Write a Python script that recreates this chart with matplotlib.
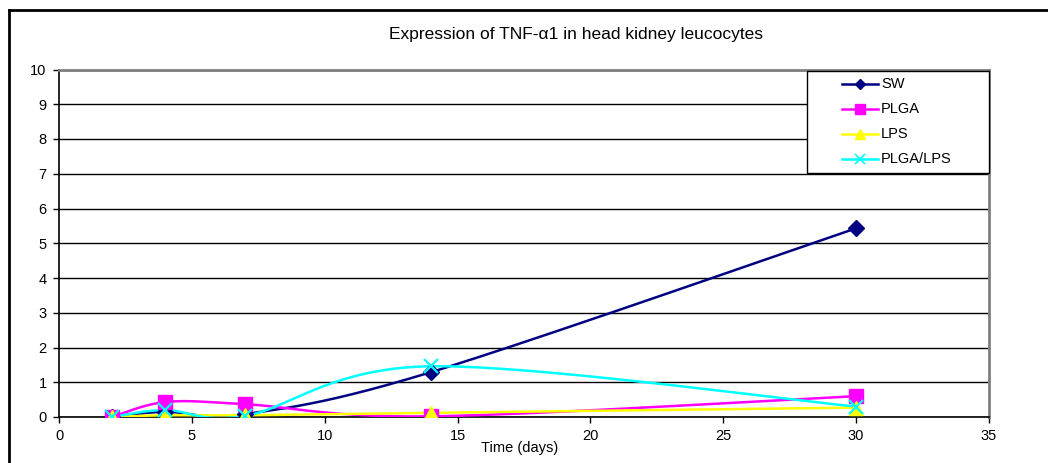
import numpy as np
import matplotlib.pyplot as plt
from matplotlib.lines import Line2D
from matplotlib.patches import Rectangle

plt.rcParams['font.family'] = ['Liberation Sans', 'DejaVu Sans']

# data
days = [2, 4, 7, 14, 30]
sw = [0.0, 0.15, 0.08, 1.29, 5.43]
plga = [0.0, 0.43, 0.37, 0.02, 0.60]
lps = [0.0, 0.05, 0.05, 0.12, 0.27]
plga_lps = [0.0, 0.20, 0.03, 1.46, 0.30]

series = ['SW', 'PLGA', 'LPS', 'PLGA/LPS']
colors = ['#000080', '#FF00FF', '#FFFF00', '#00FFFF']
markers = ['D', 's', '^', 'x']

W, H = 1048, 463


def px(x, y):
    # pixel position -> figure fraction
    return x / W, 1 - y / H


# Excel style smoothed line (bezier through the points)
def smooth(x, y, n=40):
    p = np.column_stack([x, y]).astype(float)
    out = []
    for i in range(len(p) - 1):
        p0 = p[i - 1] if i > 0 else p[i]
        p3 = p[i + 2] if i + 2 < len(p) else p[i + 1]
        c1 = p[i] + (p[i + 1] - p0) / 6
        c2 = p[i + 1] - (p3 - p[i]) / 6
        t = np.linspace(0, 1, n)[:, None]
        seg = ((1 - t) ** 3) * p[i] + 3 * ((1 - t) ** 2) * t * c1 \
            + 3 * (1 - t) * t ** 2 * c2 + t ** 3 * p[i + 1]
        out.append(seg)
    out = np.vstack(out)
    return out[:, 0], out[:, 1]


def mstyle(m, big=True):
    if m == 'x':
        return dict(ms=10 if big else 7, mew=1.6 if big else 1.2)
    if m == 'D':
        return dict(ms=8.5 if big else 5.5)
    return dict(ms=10 if big else 6.5)


fig = plt.figure(figsize=(W / 100, H / 100), dpi=100)
ax = fig.add_axes([59 / W, 1 - 417 / H, 930 / W, 347.5 / H])

for vals, name, c, m in zip([sw, plga, lps, plga_lps], series, colors, markers):
    sx, sy = smooth(days, vals)
    ax.plot(sx, sy, color=c, lw=1.8, zorder=3)
    ax.plot(days, vals, ls='none', marker=m, color=c, mec=c, zorder=4, **mstyle(m))

ax.set_xlim(0, 35)
ax.set_ylim(0, 10)
ax.set_xticks(range(0, 36, 5))
ax.set_yticks(range(0, 11))
ax.tick_params(labelsize=10.5, length=4, width=1, direction='out', pad=5)
ax.yaxis.grid(True, color='black', lw=1)
ax.set_axisbelow(True)
ax.spines['top'].set_color('#808080')
ax.spines['right'].set_color('#808080')
ax.spines['top'].set_linewidth(2)
ax.spines['right'].set_linewidth(2)
ax.spines['left'].set_linewidth(1.2)
ax.spines['bottom'].set_linewidth(1.2)

fig.text(*px(576, 35), 'Expression of TNF-\u03b11 in head kidney leucocytes',
         ha='center', va='center', fontsize=12.5)
fig.text(*px(520, 448), 'Time (days)', ha='center', va='center', fontsize=10.5)

# legend box drawn by hand
fig.add_artist(Rectangle(px(807, 173), 182 / W, 102 / H, transform=fig.transFigure,
                         facecolor='white', edgecolor='black', lw=1, zorder=5))
for k, (name, c, m) in enumerate(zip(series, colors, markers)):
    yy = 84 + 25 * k
    x0, y0 = px(842, yy)
    x1, _ = px(878, yy)
    fig.add_artist(Line2D([x0, x1], [y0, y0], color=c, lw=1.8, transform=fig.transFigure,
                          zorder=6))
    fig.add_artist(Line2D([(x0 + x1) / 2], [y0], color=c, marker=m, mec=c, ls='none',
                          transform=fig.transFigure, zorder=6, **mstyle(m, big=False)))
    fig.text(*px(881, yy), name, ha='left', va='center', fontsize=10.5, zorder=6)

# outer chart frame
fig.add_artist(Line2D([9 / W, 9 / W], [0, 1 - 10 / H], color='black', lw=2,
                      transform=fig.transFigure))
fig.add_artist(Line2D([9 / W, 1], [1 - 10 / H, 1 - 10 / H], color='black', lw=2,
                      transform=fig.transFigure))

fig.savefig('out.png', dpi=100)
